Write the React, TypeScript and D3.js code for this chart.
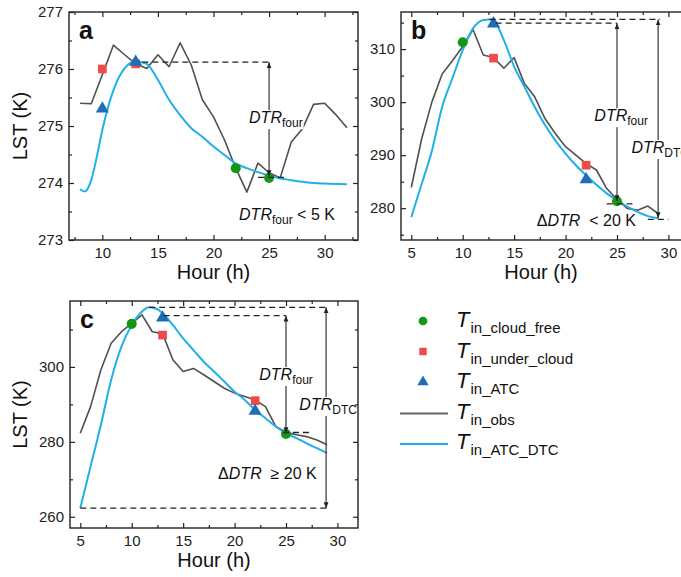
import React, { useEffect, useRef } from 'react';
import * as d3 from 'd3';

// ---- panel a ----
const aObsHour = [8, 9, 10, 11, 12, 13, 14, 15, 16, 17, 18, 19, 20, 21, 22, 23, 24, 25, 26, 27, 28, 29, 30, 31, 32];
const aObsLst = [275.4, 275.39, 275.9, 276.42, 276.25, 276.09, 276.01, 276.25, 276.04, 276.46, 276.07, 275.46, 275.16, 274.75, 274.26, 273.84, 274.35, 274.18, 274.09, 274.72, 274.95, 275.38, 275.4, 275.2, 274.97];
const aDtcHour = [8, 8.4, 9, 9.5, 10, 11, 12, 13, 13.7, 14, 15, 16, 17, 18, 19, 20, 21, 22, 23, 24, 25, 26, 27, 28, 29, 30, 32];
const aDtcLst = [273.89, 273.85, 274.05, 274.46, 274.93, 275.63, 276.01, 276.13, 276.11, 276.09, 275.81, 275.46, 275.19, 274.96, 274.81, 274.64, 274.49, 274.34, 274.26, 274.19, 274.13, 274.08, 274.05, 274.02, 274.0, 273.99, 273.98];
const aCloudFree = [[22, 274.26], [25, 274.09]];
const aUnderCloud = [[10, 276.0], [13, 276.09]];
const aAtc = [[10, 275.32], [13, 276.14]];
const aDashes = [[13.6, 25.1, 276.12], [24, 26.7, 274.1]];
const aArrows = [[25, 274.12, 276.12]];

// ---- panel b ----
const bObsHour = [5, 6, 7, 8, 9, 10, 11, 12, 13, 14, 15, 16, 17, 18, 19, 20, 21, 22, 23, 24, 25, 26, 27, 28, 29];
const bObsLst = [283.9, 293, 300, 305.3, 307.8, 310.5, 313.7, 308.9, 308.4, 306.4, 308.4, 303.5, 301.0, 296.9, 294.1, 291.6, 290.0, 288.4, 287.2, 283.7, 281.65, 279.96, 279.6, 280.4, 279.0];
const bDtcHour = [5, 6, 7, 8, 9, 10, 11, 12, 12.6, 13, 14, 15, 16, 17, 18, 19, 20, 21, 22, 23, 24, 25, 26, 27, 28, 29];
const bDtcLst = [278.3, 284.5, 290.8, 299.1, 304.5, 309.8, 313.9, 315.5, 315.6, 315.4, 311.7, 306.7, 302.9, 299.1, 295.7, 292.8, 290.3, 288.1, 286.2, 284.4, 282.8, 281.5, 280.3, 279.3, 278.5, 278.1];
const bCloudFree = [[10, 311.3], [25, 281.3]];
const bUnderCloud = [[13, 308.3], [22, 288.1]];
const bAtc = [[13, 315.0], [22, 285.6]];
const bDashes = [[12.6, 29.2, 315.6], [13.2, 25, 314.9], [24, 26.5, 280.8], [28, 30, 277.9]];
const bArrows = [[25, 281.3, 314.9], [29, 278.1, 315.6]];

// ---- panel c ----
const cObsHour = [5, 6, 7, 8, 9, 10, 11, 12, 13, 14, 15, 16, 17, 18, 19, 20, 21, 22, 23, 24, 25, 26, 27, 28, 29];
const cObsLst = [282.3, 289.4, 299.2, 306.3, 309.4, 311.6, 313.9, 309.4, 308.9, 301.9, 298.8, 299.6, 297.9, 296.1, 294.3, 293.0, 292.1, 291.2, 289.4, 284.1, 282.6, 281.9, 281.4, 280.5, 279.2];
const cDtcHour = [5, 6, 7, 8, 9, 10, 11, 11.7, 12.5, 13, 14, 15, 16, 17, 18, 19, 20, 21, 22, 23, 24, 25, 26, 27, 28, 29];
const cDtcLst = [262.3, 273.4, 284.5, 296.5, 305.4, 311.2, 314.8, 315.9, 315.4, 314.3, 311.2, 307.6, 304.5, 301.4, 298.8, 296.1, 293.4, 291.2, 288.5, 286.3, 284.1, 282.3, 281.0, 279.6, 278.3, 277.0];
const cCloudFree = [[10, 311.5], [25, 282.1]];
const cUnderCloud = [[13, 308.5], [22, 291.0]];
const cAtc = [[13, 313.4], [22, 288.5]];
const cDashes = [[11.7, 29.1, 315.9], [13.1, 25, 313.7], [5, 29.1, 262.3], [24.7, 27.6, 282.5]];
const cArrows = [[25, 282.3, 313.7], [28.9, 262.3, 315.9]];

const FONT = "'Liberation Sans', Arial, Helvetica, sans-serif";
const OBS_COLOR = '#505050';
const DTC_COLOR = '#1fb0e8';
const GREEN = '#169616';
const RED = '#f04a4a';
const TRI = '#1f6db5';

type Pt = number[];
interface Label { h: number; v: number; delta?: boolean; sub?: string; tail?: string; }
interface Panel {
    letter: string;
    box: [number, number, number, number]; // x0, y0, x1, y1
    xDomain: [number, number];
    yDomain: [number, number];
    xTicks: number[];
    yTicks: number[];
    xMinor: number[];
    yMinor: number[];
    obs: [number[], number[]];
    dtc: [number[], number[]];
    cloudFree: Pt[];
    underCloud: Pt[];
    atc: Pt[];
    dashes: Pt[];
    arrows: Pt[];
    labels: Label[];
    yTitle: boolean;
}

const panels: Panel[] = [
    {
        letter: 'a', box: [69, 12, 358, 240], xDomain: [7, 33], yDomain: [273, 277],
        xTicks: [10, 15, 20, 25, 30], yTicks: [273, 274, 275, 276, 277],
        xMinor: [7.5, 12.5, 17.5, 22.5, 27.5, 32.5], yMinor: [273.5, 274.5, 275.5, 276.5],
        obs: [aObsHour, aObsLst], dtc: [aDtcHour, aDtcLst],
        cloudFree: aCloudFree, underCloud: aUnderCloud, atc: aAtc, dashes: aDashes, arrows: aArrows,
        labels: [
            { h: 23.2, v: 275.05, sub: 'four' },
            { h: 22.3, v: 273.35, sub: 'four', tail: ' < 5 K' },
        ],
        yTitle: true,
    },
    {
        letter: 'b', box: [401, 12, 689, 240], xDomain: [4, 32], yDomain: [274, 317],
        xTicks: [5, 10, 15, 20, 25, 30], yTicks: [280, 290, 300, 310],
        xMinor: [7.5, 12.5, 17.5, 22.5, 27.5], yMinor: [275, 285, 295, 305, 315],
        obs: [bObsHour, bObsLst], dtc: [bDtcHour, bDtcLst],
        cloudFree: bCloudFree, underCloud: bUnderCloud, atc: bAtc, dashes: bDashes, arrows: bArrows,
        labels: [
            { h: 22.8, v: 296.4, sub: 'four' },
            { h: 26.4, v: 290.4, sub: 'DTC' },
            { h: 17.2, v: 276.6, delta: true, tail: '  < 20 K' },
        ],
        yTitle: false,
    },
    {
        letter: 'c', box: [70, 301, 358, 528], xDomain: [4, 32], yDomain: [257, 317.6],
        xTicks: [5, 10, 15, 20, 25, 30], yTicks: [260, 280, 300],
        xMinor: [7.5, 12.5, 17.5, 22.5, 27.5], yMinor: [270, 290, 310],
        obs: [cObsHour, cObsLst], dtc: [cDtcHour, cDtcLst],
        cloudFree: cCloudFree, underCloud: cUnderCloud, atc: cAtc, dashes: cDashes, arrows: cArrows,
        labels: [
            { h: 22.4, v: 296.5, sub: 'four' },
            { h: 26.3, v: 288.5, sub: 'DTC' },
            { h: 18.4, v: 270.1, delta: true, tail: '  \u2265 20 K' },
        ],
        yTitle: true,
    },
];

const legendItems = [
    { kind: 'circle', sub: 'in_cloud_free' },
    { kind: 'square', sub: 'in_under_cloud' },
    { kind: 'triangle', sub: 'in_ATC' },
    { kind: 'obs', sub: 'in_obs' },
    { kind: 'dtc', sub: 'in_ATC_DTC' },
];

const drawMarkers = (g: any, pts: Pt[], x: any, y: any, kind: string) => {
    const type = kind === 'circle' ? d3.symbolCircle : kind === 'square' ? d3.symbolSquare : d3.symbolTriangle;
    const size = kind === 'circle' ? 80 : 75;
    const fill = kind === 'circle' ? GREEN : kind === 'square' ? RED : TRI;
    g.selectAll(null)
        .data(pts)
        .enter()
        .append('path')
        .attr('d', d3.symbol().type(type).size(size))
        .attr('transform', (d: Pt) => `translate(${x(d[0])},${y(d[1]) + (kind === 'triangle' ? 1 : 0)})`)
        .attr('fill', fill);
};

const App: React.FC = () => {
    const ref = useRef<SVGSVGElement>(null);

    useEffect(() => {
        const svg = d3.select(ref.current);
        svg.selectAll('*').remove();

        const defs = svg.append('defs');
        defs.append('marker')
            .attr('id', 'arrowhead')
            .attr('viewBox', '0 0 10 10')
            .attr('refX', 10).attr('refY', 5)
            .attr('markerWidth', 6).attr('markerHeight', 6)
            .attr('markerUnits', 'userSpaceOnUse')
            .attr('orient', 'auto-start-reverse')
            .append('path').attr('d', 'M0,1 L10,5 L0,9 Z').attr('fill', '#222');

        panels.forEach((p, i) => {
            const [x0, y0, x1, y1] = p.box;
            const x = d3.scaleLinear().domain(p.xDomain).range([x0, x1]);
            const y = d3.scaleLinear().domain(p.yDomain).range([y1, y0]);
            const g = svg.append('g');

            defs.append('clipPath').attr('id', `clip${i}`)
                .append('rect').attr('x', x0).attr('y', y0).attr('width', x1 - x0).attr('height', y1 - y0);

            const plot = g.append('g').attr('clip-path', `url(#clip${i})`);

            const obsLine = d3.line<number>()
                .x(d => x(d))
                .y((_, k) => y(p.obs[1][k]));
            const dtcLine = d3.line<number>()
                .x(d => x(d))
                .y((_, k) => y(p.dtc[1][k]))
                .curve(d3.curveMonotoneX);

            plot.append('path').attr('d', obsLine(p.obs[0]) as string)
                .attr('fill', 'none').attr('stroke', OBS_COLOR).attr('stroke-width', 1.6).attr('stroke-linejoin', 'round');
            plot.append('path').attr('d', dtcLine(p.dtc[0]) as string)
                .attr('fill', 'none').attr('stroke', DTC_COLOR).attr('stroke-width', 2);

            drawMarkers(plot, p.cloudFree, x, y, 'circle');
            drawMarkers(plot, p.underCloud, x, y, 'square');
            drawMarkers(plot, p.atc, x, y, 'triangle');

            // dashed reference lines
            plot.selectAll(null).data(p.dashes).enter().append('line')
                .attr('x1', d => x(d[0])).attr('x2', d => x(d[1]))
                .attr('y1', d => y(d[2])).attr('y2', d => y(d[2]))
                .attr('stroke', '#222').attr('stroke-width', 1.3).attr('stroke-dasharray', '6,4');

            // DTR arrows
            plot.selectAll(null).data(p.arrows).enter().append('line')
                .attr('x1', d => x(d[0])).attr('x2', d => x(d[0]))
                .attr('y1', d => y(d[1])).attr('y2', d => y(d[2]))
                .attr('stroke', '#444').attr('stroke-width', 1.3)
                .attr('marker-start', 'url(#arrowhead)').attr('marker-end', 'url(#arrowhead)');

            // annotation labels with white backing (not clipped)
            const ann = g.append('g');
            p.labels.forEach(l => {
                const t = ann.append('text')
                    .attr('x', x(l.h)).attr('y', y(l.v))
                    .attr('font-family', FONT).attr('font-size', 16).attr('fill', '#111')
                    .style('white-space', 'pre');
                if (l.delta) t.append('tspan').text('\u0394');
                t.append('tspan').attr('font-style', 'italic').text('DTR');
                if (l.sub) t.append('tspan').attr('font-size', 12).attr('dy', 4).text(l.sub);
                if (l.tail) t.append('tspan').attr('dy', l.sub ? -4 : 0).text(l.tail);
                const bb = (t.node() as SVGTextElement).getBBox();
                ann.insert('rect', () => t.node())
                    .attr('x', bb.x - 1).attr('y', bb.y + 1).attr('width', bb.width + 2).attr('height', bb.height - 2)
                    .attr('fill', '#fff');
            });

            // axes
            const styleAxis = (a: any) => {
                a.select('.domain').remove();
                a.selectAll('line').attr('stroke', '#222').attr('stroke-width', 1.2);
                a.selectAll('text').attr('font-family', FONT).attr('font-size', 15).attr('fill', '#222');
            };
            g.append('g').attr('transform', `translate(0,${y1})`)
                .call(d3.axisBottom(x).tickValues(p.xTicks).tickSize(-5).tickPadding(7).tickFormat(d3.format('d')))
                .call(styleAxis);
            g.append('g').attr('transform', `translate(0,${y1})`)
                .call(d3.axisBottom(x).tickValues(p.xMinor).tickSize(-3).tickFormat(() => ''))
                .call(styleAxis);
            g.append('g').attr('transform', `translate(0,${y0})`)
                .call(d3.axisTop(x).tickValues(p.xTicks).tickSize(-5).tickFormat(() => ''))
                .call(styleAxis);
            g.append('g').attr('transform', `translate(0,${y0})`)
                .call(d3.axisTop(x).tickValues(p.xMinor).tickSize(-3).tickFormat(() => ''))
                .call(styleAxis);
            g.append('g').attr('transform', `translate(${x0},0)`)
                .call(d3.axisLeft(y).tickValues(p.yTicks).tickSize(-5).tickPadding(6).tickFormat(d3.format('d')))
                .call(styleAxis);
            g.append('g').attr('transform', `translate(${x0},0)`)
                .call(d3.axisLeft(y).tickValues(p.yMinor).tickSize(-3).tickFormat(() => ''))
                .call(styleAxis);
            g.append('g').attr('transform', `translate(${x1},0)`)
                .call(d3.axisRight(y).tickValues(p.yTicks).tickSize(-5).tickFormat(() => ''))
                .call(styleAxis);
            g.append('g').attr('transform', `translate(${x1},0)`)
                .call(d3.axisRight(y).tickValues(p.yMinor).tickSize(-3).tickFormat(() => ''))
                .call(styleAxis);

            g.append('rect').attr('x', x0).attr('y', y0).attr('width', x1 - x0).attr('height', y1 - y0)
                .attr('fill', 'none').attr('stroke', '#222').attr('stroke-width', 1.4);

            // panel letter
            g.append('text').attr('x', x0 + 10).attr('y', y0 + 27)
                .attr('font-family', FONT).attr('font-size', 25).attr('font-weight', 'bold').attr('fill', '#111')
                .text(p.letter);

            // axis titles
            const midX = i === 1 ? 541 : (x0 + x1) / 2;
            g.append('text').attr('x', midX).attr('y', y1 + 39)
                .attr('text-anchor', 'middle').attr('font-family', FONT).attr('font-size', 20).attr('fill', '#111')
                .text('Hour (h)');
            if (p.yTitle) {
                g.append('text')
                    .attr('transform', `translate(${27},${(y0 + y1) / 2}) rotate(-90)`)
                    .attr('text-anchor', 'middle').attr('font-family', FONT).attr('font-size', 20).attr('fill', '#111')
                    .text('LST (K)');
            }
        });

        // legend
        const lg = svg.append('g');
        legendItems.forEach((item, k) => {
            const cy = 321 + k * 30.5;
            if (item.kind === 'obs' || item.kind === 'dtc') {
                lg.append('line').attr('x1', 400).attr('x2', 448).attr('y1', cy + 1).attr('y2', cy + 1)
                    .attr('stroke', item.kind === 'obs' ? '#666' : DTC_COLOR).attr('stroke-width', 2);
            } else {
                const type = item.kind === 'circle' ? d3.symbolCircle : item.kind === 'square' ? d3.symbolSquare : d3.symbolTriangle;
                const fill = item.kind === 'circle' ? GREEN : item.kind === 'square' ? RED : TRI;
                lg.append('path').attr('d', d3.symbol().type(type).size(item.kind === 'circle' ? 60 : 55)())
                    .attr('transform', `translate(423,${cy})`).attr('fill', fill);
            }
            const t = lg.append('text').attr('x', 456).attr('y', cy + 6)
                .attr('font-family', FONT).attr('font-size', 22).attr('fill', '#111');
            t.append('tspan').attr('font-style', 'italic').text('T');
            t.append('tspan').attr('font-size', 15).attr('dy', 6).attr('dx', 1).text(item.sub);
        });
    }, []);

    return (
        <svg
            ref={ref}
            width={681}
            height={577}
            style={{ position: 'absolute', left: 0, top: 0, background: '#fff' }}
        />
    );
};

export default App;
